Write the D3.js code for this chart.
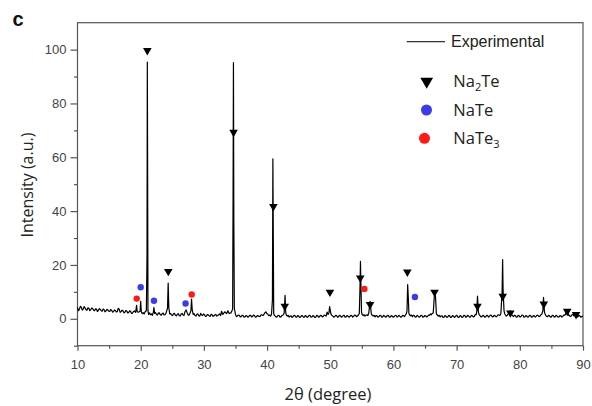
<!DOCTYPE html>
<html><head><meta charset="utf-8">
<script src="https://cdn.jsdelivr.net/npm/d3@7"></script>
<style>body{margin:0;background:#fff}svg{display:block}</style>
</head><body>
<svg id="c" width="592" height="406"></svg>
<script>
// Experimental XRD trace: [2theta, intensity]
const experimental = [
[10.0,4.2],[10.15,3.0],[10.3,3.5],[10.45,4.6],[10.6,4.4],[10.75,3.2],[10.9,3.6],[11.05,4.5],[11.2,4.0],[11.35,3.4],
[11.5,3.2],[11.65,4.1],[11.8,3.9],[11.95,3.0],[12.1,3.4],[12.25,4.0],[12.4,3.8],[12.55,3.2],[12.7,3.0],[12.85,3.7],
[13.0,3.6],[13.15,2.7],[13.3,3.1],[13.45,3.8],[13.6,3.5],[13.75,3.0],[13.9,2.8],[14.05,3.6],[14.2,3.4],[14.35,2.6],
[14.5,2.9],[14.65,3.5],[14.8,3.3],[14.95,2.8],[15.1,2.7],[15.25,3.4],[15.4,3.2],[15.55,2.5],[15.7,2.6],[15.85,3.3],
[16.0,3.1],[16.15,2.5],[16.3,2.7],[16.45,3.9],[16.6,3.6],[16.75,2.4],[16.9,2.6],[17.05,3.2],[17.2,3.0],[17.35,2.2],
[17.5,2.4],[17.65,3.1],[17.8,2.9],[17.95,2.2],[18.1,2.3],[18.25,3.0],[18.4,2.8],[18.55,2.0],[18.7,2.1],[18.85,2.7],
[19.0,2.9],[19.2,2.4],[19.35,5.0],[19.45,2.6],[19.7,2.5],[19.9,2.8],[20.0,6.5],[20.1,2.6],[20.25,1.9],[20.4,2.3],
[20.55,1.8],[20.7,2.6],[20.9,3.0],[21.0,23.0],[21.05,95.4],[21.1,52.8],[21.15,3.0],[21.25,1.6],[21.4,2.2],[21.55,1.5],
[21.7,1.8],[21.85,1.3],[22.0,2.4],[22.1,4.2],[22.2,2.0],[22.35,2.3],[22.5,1.6],[22.65,1.4],[22.8,2.1],[22.95,2.2],
[23.1,1.5],[23.25,1.3],[23.4,1.9],[23.55,2.1],[23.7,1.4],[23.85,1.5],[24.0,2.0],[24.25,4.0],[24.35,13.3],[24.45,4.2],
[24.6,1.8],[24.75,1.9],[24.9,1.4],[25.05,1.2],[25.2,1.9],[25.35,2.0],[25.5,1.3],[25.65,1.1],[25.8,1.7],[25.95,1.9],
[26.1,1.2],[26.25,1.0],[26.4,1.8],[26.55,2.0],[26.7,1.4],[26.85,1.2],[27.0,2.6],[27.2,3.3],[27.4,1.9],[27.55,1.3],
[27.7,1.5],[27.95,3.0],[28.05,7.3],[28.15,3.5],[28.3,1.6],[28.45,1.9],[28.6,1.2],[28.75,1.0],[28.9,1.7],[29.05,1.8],
[29.2,1.1],[29.35,1.0],[29.5,2.0],[29.65,1.4],[29.8,1.2],[29.95,1.8],[30.1,1.5],[30.25,0.9],[30.4,1.0],[30.55,1.6],
[30.7,1.4],[30.85,1.1],[31.0,0.9],[31.15,1.7],[31.3,1.5],[31.45,0.9],[31.6,1.1],[31.75,1.5],[31.9,1.6],[32.05,1.0],
[32.2,1.2],[32.35,1.5],[32.5,1.8],[32.65,1.2],[32.8,2.8],[33.0,1.6],[33.3,2.6],[33.6,1.9],[33.8,3.0],[34.0,2.0],
[34.3,2.2],[34.55,3.5],[34.62,45.0],[34.68,95.2],[34.74,36.5],[34.82,4.0],[35.0,1.6],[35.15,0.8],[35.3,1.0],[35.45,1.4],
[35.6,1.3],[35.75,0.7],[35.9,0.8],[36.05,1.3],[36.2,1.2],[36.35,0.6],[36.5,0.7],[36.65,1.2],[36.8,1.1],[36.95,0.6],
[37.1,0.8],[37.25,1.3],[37.4,1.3],[37.55,0.7],[37.7,0.9],[37.85,1.4],[38.0,1.2],[38.15,0.6],[38.3,0.7],[38.45,1.2],
[38.6,1.1],[38.75,0.8],[38.9,0.9],[39.05,1.5],[39.2,1.4],[39.35,1.2],[39.5,1.6],[39.65,2.2],[39.8,2.6],[39.95,2.0],
[40.1,1.8],[40.25,1.2],[40.4,1.4],[40.55,1.0],[40.7,1.6],[40.85,7.0],[40.92,59.4],[40.98,33.3],[41.05,2.0],[41.15,1.3],
[41.3,1.0],[41.45,0.6],[41.6,0.8],[41.75,1.3],[41.9,1.2],[42.05,0.6],[42.2,0.7],[42.35,1.2],[42.5,1.3],[42.7,2.0],
[42.85,8.7],[42.95,2.5],[43.05,1.4],[43.2,1.0],[43.35,1.3],[43.5,0.6],[43.65,1.0],[43.8,1.1],[43.95,0.5],[44.1,0.8],
[44.25,1.3],[44.4,1.2],[44.55,0.7],[44.7,0.6],[44.85,1.2],[45.0,1.0],[45.15,0.5],[45.3,0.7],[45.45,1.2],[45.6,1.1],
[45.75,0.6],[45.9,0.6],[46.05,1.2],[46.2,1.0],[46.35,0.5],[46.5,0.8],[46.65,1.3],[46.8,1.2],[46.95,0.6],[47.1,0.7],
[47.25,1.2],[47.4,1.0],[47.55,0.5],[47.7,0.6],[47.85,1.3],[48.0,1.1],[48.15,0.6],[48.3,0.8],[48.45,1.3],[48.6,1.2],
[48.75,0.7],[48.9,0.9],[49.05,1.4],[49.2,1.3],[49.35,1.0],[49.5,2.5],[49.65,1.6],[49.8,2.2],[49.9,4.5],[50.1,1.8],
[50.25,1.3],[50.4,1.0],[50.55,0.6],[50.7,0.8],[50.85,1.3],[51.0,1.2],[51.15,0.6],[51.3,0.7],[51.45,1.3],[51.6,1.1],
[51.75,0.6],[51.9,0.8],[52.05,1.2],[52.2,1.3],[52.35,0.6],[52.5,0.7],[52.65,1.2],[52.8,1.0],[52.95,0.6],[53.1,0.8],
[53.25,1.3],[53.4,1.2],[53.55,0.6],[53.7,0.9],[53.85,1.4],[54.0,1.3],[54.15,0.8],[54.3,1.0],[54.45,1.4],[54.6,2.0],
[54.72,13.0],[54.78,21.3],[54.85,13.5],[54.95,2.5],[55.05,1.6],[55.2,1.2],[55.35,1.5],[55.5,1.0],[55.65,1.3],[55.8,1.5],
[55.95,1.2],[56.1,2.2],[56.3,6.5],[56.5,1.8],[56.65,1.3],[56.8,1.0],[56.95,1.3],[57.1,0.7],[57.25,1.2],[57.4,1.1],
[57.55,0.6],[57.7,0.8],[57.85,1.3],[58.0,1.2],[58.15,0.6],[58.3,0.7],[58.45,1.3],[58.6,1.0],[58.75,0.6],[58.9,0.8],
[59.05,1.3],[59.2,1.2],[59.35,0.6],[59.5,0.7],[59.65,1.2],[59.8,1.0],[59.95,0.6],[60.1,0.8],[60.25,1.2],[60.4,1.3],
[60.55,0.7],[60.7,0.8],[60.85,1.3],[61.0,1.0],[61.15,0.6],[61.3,0.7],[61.45,1.3],[61.6,1.1],[61.75,0.8],[61.9,1.4],
[62.05,1.9],[62.15,3.0],[62.25,12.7],[62.35,8.0],[62.45,2.0],[62.55,1.5],[62.7,1.1],[62.85,1.4],[63.0,0.8],[63.15,1.3],
[63.3,1.2],[63.45,0.6],[63.6,0.7],[63.75,1.3],[63.9,1.0],[64.05,0.6],[64.2,0.8],[64.35,1.3],[64.5,1.2],[64.65,0.6],
[64.8,0.7],[64.95,1.2],[65.1,1.1],[65.25,0.7],[65.4,0.9],[65.55,1.4],[65.7,1.3],[65.85,1.8],[66.0,1.5],[66.15,2.0],
[66.3,2.2],[66.5,9.5],[66.65,8.5],[66.8,1.8],[66.95,1.4],[67.1,1.0],[67.25,1.3],[67.4,0.7],[67.55,1.1],[67.7,1.1],
[67.85,0.5],[68.0,0.6],[68.15,1.2],[68.3,1.0],[68.45,0.5],[68.6,0.7],[68.75,1.3],[68.9,1.1],[69.05,0.5],[69.2,0.6],
[69.35,1.2],[69.5,1.0],[69.65,0.5],[69.8,0.8],[69.95,1.3],[70.1,1.1],[70.25,0.5],[70.4,0.6],[70.55,1.2],[70.7,1.0],
[70.85,0.5],[71.0,0.7],[71.15,1.3],[71.3,1.2],[71.45,0.6],[71.6,0.8],[71.75,1.3],[71.9,1.0],[72.05,0.6],[72.2,0.7],
[72.35,1.3],[72.5,1.1],[72.65,0.7],[72.8,0.9],[72.95,1.6],[73.1,1.5],[73.2,3.0],[73.3,8.4],[73.45,2.5],[73.55,1.6],
[73.7,1.2],[73.85,0.7],[74.0,0.8],[74.15,1.3],[74.3,1.1],[74.45,0.6],[74.6,0.7],[74.75,1.3],[74.9,1.2],[75.05,0.6],
[75.2,0.9],[75.35,1.4],[75.5,1.3],[75.65,0.7],[75.8,0.8],[75.95,1.3],[76.1,1.1],[76.25,0.7],[76.4,1.0],[76.55,1.5],
[76.7,1.4],[76.85,1.2],[77.0,2.0],[77.2,10.0],[77.28,22.0],[77.35,11.0],[77.5,3.0],[77.6,2.0],[77.7,1.5],[77.85,1.0],
[78.0,1.2],[78.15,1.8],[78.3,2.0],[78.5,3.0],[78.7,1.5],[78.85,1.2],[79.0,0.8],[79.15,1.3],[79.3,1.2],[79.45,0.6],
[79.6,0.7],[79.75,1.3],[79.9,1.1],[80.05,0.6],[80.2,0.9],[80.35,1.4],[80.5,1.3],[80.65,0.6],[80.8,0.7],[80.95,1.2],
[81.1,1.0],[81.25,0.6],[81.4,0.8],[81.55,1.3],[81.7,1.2],[81.85,0.6],[82.0,0.7],[82.15,1.2],[82.3,1.1],[82.45,0.6],
[82.6,0.9],[82.75,1.4],[82.9,1.2],[83.05,0.8],[83.2,1.0],[83.35,1.5],[83.5,1.8],[83.65,3.0],[83.75,8.0],[83.9,2.5],
[84.0,1.8],[84.1,1.3],[84.25,0.9],[84.4,0.8],[84.55,1.3],[84.7,1.1],[84.85,0.6],[85.0,0.7],[85.15,1.3],[85.3,1.2],
[85.45,0.6],[85.6,0.8],[85.75,1.3],[85.9,1.0],[86.05,0.6],[86.2,0.7],[86.35,1.2],[86.5,1.1],[86.65,0.6],[86.8,0.9],
[86.95,1.4],[87.1,1.3],[87.25,1.8],[87.4,3.0],[87.5,1.8],[87.6,2.2],[87.7,1.3],[87.8,1.4],[87.95,0.9],[88.1,1.0],
[88.25,1.5],[88.4,1.6],[88.55,1.1],[88.7,2.0],[88.8,1.2],[88.9,1.3],[89.05,0.7],[89.2,0.8],[89.35,1.3],[89.5,1.1],
[89.65,0.6],[89.8,0.8],[90.0,1.0]
];
const na2te = [[21.05,99.7],[24.37,17.6],[34.7,69.3],[41.0,41.7],[42.8,4.7],[49.95,9.9],[54.75,15.2],[56.3,5.3],
  [62.2,17.4],[66.5,9.9],[73.3,4.7],[77.3,8.4],[78.5,2.2],[83.8,5.5],[87.5,2.8],[88.9,1.6]];
const nate = [[20.0,11.7],[22.1,6.7],[27.1,5.7],[63.4,8.1]];
const nate3 = [[19.37,7.5],[28.07,9.0],[55.4,11.1]];
const xTicks = [10,20,30,40,50,60,70,80,90];
const xMinorTicks = [15,25,35,45,55,65,75,85];
const yTicks = [0,20,40,60,80,100];
const yMinorTicks = [-10,10,30,50,70,90];

const svg = d3.select("#c");
const L = 77.5, R = 583, T = 22.7, B = 345.7;
const x = d3.scaleLinear().domain([10,90]).range([L,R]);
const y = d3.scaleLinear().domain([-10,110]).range([B,T]);
const axisCol = "#555", labCol = "#444";

// frame
svg.append("rect").attr("x",L).attr("y",T).attr("width",R-L).attr("height",B-T)
  .attr("fill","none").attr("stroke",axisCol).attr("stroke-width",1.2);

// axes
const gx = svg.append("g").attr("transform",`translate(0,${B})`)
  .call(d3.axisBottom(x).tickValues(xMinorTicks).tickSize(3).tickFormat(""));
const gx2 = svg.append("g").attr("transform",`translate(0,${B})`)
  .call(d3.axisBottom(x).tickValues(xTicks).tickSize(5).tickPadding(9).tickFormat(d3.format("d")));
const gy = svg.append("g").attr("transform",`translate(${L},0)`)
  .call(d3.axisLeft(y).tickValues(yMinorTicks).tickSize(3.5).tickFormat(""));
const gy2 = svg.append("g").attr("transform",`translate(${L},0)`)
  .call(d3.axisLeft(y).tickValues(yTicks).tickSize(7).tickPadding(4).tickFormat(d3.format("d")));
[gx,gx2,gy,gy2].forEach(g=>{
  g.select(".domain").remove();
  g.selectAll("line").attr("stroke",axisCol).attr("stroke-width",1.2);
  g.selectAll("text").attr("fill",labCol).style("font-family","Liberation Sans, Arial, sans-serif").style("font-size","13px");
});

// trace
svg.append("path").datum(experimental)
  .attr("d",d3.line().x(d=>x(d[0])).y(d=>y(d[1])))
  .attr("fill","none").attr("stroke","#000").attr("stroke-width",1.2).attr("stroke-linejoin","round");

// markers
const tri = d3.symbol().type(d3.symbolTriangle);
svg.append("g").selectAll("path").data(na2te).join("path")
  .attr("d",tri.size(32)())
  .attr("transform",d=>`translate(${x(d[0])},${y(d[1])}) rotate(180)`).attr("fill","#000");
svg.append("g").selectAll("circle").data(nate).join("circle")
  .attr("cx",d=>x(d[0])).attr("cy",d=>y(d[1])).attr("r",3.2).attr("fill","#3b3bea");
svg.append("g").selectAll("circle").data(nate3).join("circle")
  .attr("cx",d=>x(d[0])).attr("cy",d=>y(d[1])).attr("r",3.2).attr("fill","#ff1a1a");

// axis titles
const tf = "Open Sans, Noto Sans, sans-serif";
svg.append("text").attr("transform","translate(33.3,185) rotate(-90)").attr("text-anchor","middle")
  .style("font-family",tf).style("font-size","16px").attr("fill","#222").text("Intensity (a.u.)");
svg.append("text").attr("x",328).attr("y",400).attr("text-anchor","middle")
  .style("font-family",tf).style("font-size","16.5px").attr("fill","#222").text("2θ (degree)");
// panel label
svg.append("text").attr("x",12.5).attr("y",26).style("font-family","Liberation Sans, Arial, sans-serif")
  .style("font-size","20px").style("font-weight","bold").attr("fill","#111").text("c");

// legend
svg.append("line").attr("x1",406.7).attr("x2",445).attr("y1",41.7).attr("y2",41.7).attr("stroke","#333").attr("stroke-width",1.2);
svg.append("text").attr("x",451).attr("y",47.3).style("font-family","Liberation Sans, Arial, sans-serif")
  .style("font-size","16px").attr("fill","#222").text("Experimental");
svg.append("path").attr("d",tri.size(70)()).attr("transform","translate(426.7,81.5) rotate(180)").attr("fill","#000");
svg.append("circle").attr("cx",426.5).attr("cy",110).attr("r",5.5).attr("fill","#3b3bea");
svg.append("circle").attr("cx",424.5).attr("cy",138.3).attr("r",5.5).attr("fill","#ff1a1a");
function legText(yb, parts){
  const t = svg.append("text").attr("x",453.3).attr("y",yb).style("font-family",tf).style("font-size","16.5px").attr("fill","#222");
  parts.forEach(p=>{
    const s = t.append("tspan").text(p[0]).style("font-size", p[2] ? "11px" : "16.5px");
    if(p[1]) s.attr("dy",p[1]);
  });
}
legText(87.3, [["Na"],["2",4,true],["Te",-4]]);
legText(115.7, [["NaTe"]]);
legText(143.8, [["NaTe"],["3",4,true]]);
</script>
</body></html>
